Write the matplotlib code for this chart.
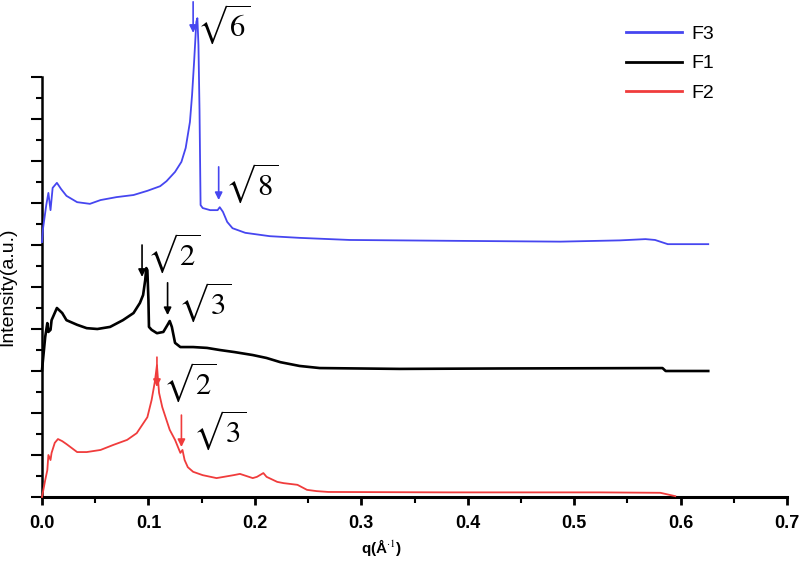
import numpy as np
import matplotlib
matplotlib.use('Agg')
import matplotlib.pyplot as plt
from matplotlib.ticker import MultipleLocator, NullFormatter

# -------------------------------------------------------------------------------------
# Data
q_f3 = [0.000, 0.001, 0.004, 0.006, 0.008, 0.010, 0.014, 0.018, 0.023, 0.033, 0.045, 0.055,
        0.070, 0.086, 0.099, 0.111, 0.117, 0.125, 0.131, 0.135, 0.139, 0.141, 0.143, 0.145,
        0.146, 0.147, 0.148, 0.149, 0.151, 0.158, 0.165, 0.167, 0.170, 0.174, 0.179, 0.191,
        0.214, 0.242, 0.289, 0.383, 0.487, 0.543, 0.567, 0.576, 0.588, 0.626]
i_f3 = [6.07, 6.40, 6.95, 7.24, 6.83, 7.36, 7.48, 7.33, 7.17, 7.02, 6.98, 7.07,
        7.14, 7.19, 7.29, 7.40, 7.52, 7.74, 7.98, 8.31, 8.93, 9.57, 10.40, 11.31,
        11.40, 10.76, 9.21, 6.95, 6.88, 6.83, 6.83, 6.90, 6.79, 6.55, 6.40, 6.29,
        6.21, 6.17, 6.12, 6.10, 6.08, 6.11, 6.14, 6.12, 6.02, 6.02]

q_f1 = [0.000, 0.003, 0.005, 0.006, 0.008, 0.009, 0.014, 0.019, 0.023, 0.033, 0.042, 0.052,
        0.064, 0.076, 0.086, 0.092, 0.095, 0.097, 0.098, 0.099, 0.100, 0.1005, 0.103, 0.108,
        0.114, 0.118, 0.120, 0.122, 0.125, 0.130, 0.142, 0.155, 0.167, 0.181, 0.198, 0.211,
        0.224, 0.242, 0.261, 0.336, 0.430, 0.583, 0.586, 0.626]
i_f1 = [3.02, 3.81, 4.14, 3.93, 3.98, 4.21, 4.50, 4.38, 4.21, 4.10, 4.02, 4.00,
        4.05, 4.21, 4.38, 4.62, 4.81, 5.17, 5.45, 5.40, 4.69, 4.05, 3.98, 3.90,
        3.93, 4.10, 4.19, 4.05, 3.67, 3.57, 3.57, 3.55, 3.50, 3.45, 3.38, 3.31,
        3.21, 3.12, 3.07, 3.05, 3.06, 3.07, 3.00, 3.00]

q_f2 = [0.000, 0.003, 0.005, 0.006, 0.008, 0.009, 0.012, 0.015, 0.019, 0.023, 0.033, 0.042,
        0.055, 0.067, 0.080, 0.089, 0.099, 0.103, 0.106, 0.108, 0.109, 0.110, 0.113, 0.117,
        0.120, 0.125, 0.130, 0.132, 0.134, 0.137, 0.142, 0.151, 0.164, 0.180, 0.186, 0.198,
        0.202, 0.208, 0.211, 0.221, 0.227, 0.240, 0.249, 0.258, 0.269, 0.383, 0.524, 0.581,
        0.595]
i_f2 = [0.00, 0.40, 0.64, 1.00, 0.88, 1.05, 1.29, 1.38, 1.33, 1.26, 1.07, 1.07,
        1.12, 1.24, 1.36, 1.52, 1.90, 2.31, 2.74, 3.14, 2.79, 2.48, 2.14, 1.83,
        1.60, 1.36, 1.05, 1.12, 0.88, 0.71, 0.60, 0.52, 0.45, 0.52, 0.55, 0.45,
        0.48, 0.57, 0.48, 0.36, 0.33, 0.29, 0.17, 0.14, 0.12, 0.11, 0.11, 0.10,
        0.02]

# peak markers: label, arrow x, arrow top, arrow tip, text x, text y, colour key
peak_labels = [r'$\sqrt{6}$', r'$\sqrt{8}$', r'$\sqrt{2}$', r'$\sqrt{3}$', r'$\sqrt{2}$', r'$\sqrt{3}$']
peak_q = [0.142, 0.166, 0.094, 0.118, 0.108, 0.131]
peak_top = [11.79, 7.86, 6.00, 5.10, 3.33, 1.95]
peak_tip = [11.05, 7.07, 5.24, 4.33, 2.62, 1.19]
label_q = [0.146, 0.172, 0.099, 0.128, 0.114, 0.142]
label_y = [11.25, 7.47, 5.80, 4.64, 2.74, 1.60]
peak_series = ['F3', 'F3', 'F1', 'F1', 'F2', 'F2']

series_color = {'F3': '#4646f0', 'F1': '#000000', 'F2': '#f03c3c'}
series_width = {'F3': 1.3, 'F1': 1.9, 'F2': 1.3}
# -------------------------------------------------------------------------------------

plt.rcParams['font.family'] = ['Liberation Sans', 'DejaVu Sans']
plt.rcParams['mathtext.fontset'] = 'stix'

fig = plt.figure(figsize=(7.99, 5.69), dpi=100)
ax = fig.add_axes([42 / 799, 1 - 497 / 569, 745 / 799, 420 / 569])

curves = [('F3', q_f3, i_f3), ('F1', q_f1, i_f1), ('F2', q_f2, i_f2)]
for name, q_val, i_val in curves:
    ax.plot(q_val, i_val, color=series_color[name], lw=series_width[name],
            label=name, clip_on=False, zorder=3)

for lab, xq, y0, y1, tx, ty, key in zip(peak_labels, peak_q, peak_top, peak_tip,
                                         label_q, label_y, peak_series):
    ax.annotate('', xy=(xq, y1), xytext=(xq, y0),
                arrowprops=dict(arrowstyle='-|>', color=series_color[key], lw=1.2,
                                mutation_scale=11, shrinkA=0, shrinkB=0),
                annotation_clip=False, zorder=4)
    ax.text(tx, ty, lab, fontsize=22, ha='left', va='center', color='black',
            clip_on=False, zorder=5)

ax.set_xlim(0, 0.7)
ax.set_ylim(0, 10)

ax.xaxis.set_major_locator(MultipleLocator(0.1))
ax.xaxis.set_minor_locator(MultipleLocator(0.05))
ax.yaxis.set_major_locator(MultipleLocator(1))
ax.yaxis.set_minor_locator(MultipleLocator(0.5))
ax.yaxis.set_major_formatter(NullFormatter())
ax.xaxis.set_major_formatter(plt.FuncFormatter(lambda v, p: '%.1f' % v))

ax.tick_params(axis='x', which='major', direction='out', length=6, width=2, pad=7,
               labelsize=13)
ax.tick_params(axis='x', which='minor', direction='out', length=4, width=1.5)
ax.tick_params(axis='y', which='major', direction='out', length=8, width=1.5)
ax.tick_params(axis='y', which='minor', direction='out', length=4, width=1.5)
for tl in ax.get_xticklabels():
    tl.set_fontweight('bold')

ax.spines['top'].set_visible(False)
ax.spines['right'].set_visible(False)
ax.spines['left'].set_linewidth(1.8)
ax.spines['bottom'].set_linewidth(2.2)

ax.set_xlabel(r'q(Å$^{\cdot1}$)', fontsize=11, fontweight='bold')
ax.xaxis.set_label_coords((382 - 42) / 745, -0.095)
ax.set_ylabel('Intensity(a.u.)', fontsize=14)
ax.yaxis.set_label_coords(-0.035, 0.5)

leg = ax.legend(loc='upper left', bbox_to_anchor=(608 / 799, 1 - 8 / 569),
                bbox_transform=fig.transFigure, frameon=False, fontsize=14,
                handlelength=2.9, handletextpad=0.5, labelspacing=0.6)
for line in leg.get_lines():
    line.set_linewidth(2)

fig.savefig('out.png', dpi=100)
plt.close()
